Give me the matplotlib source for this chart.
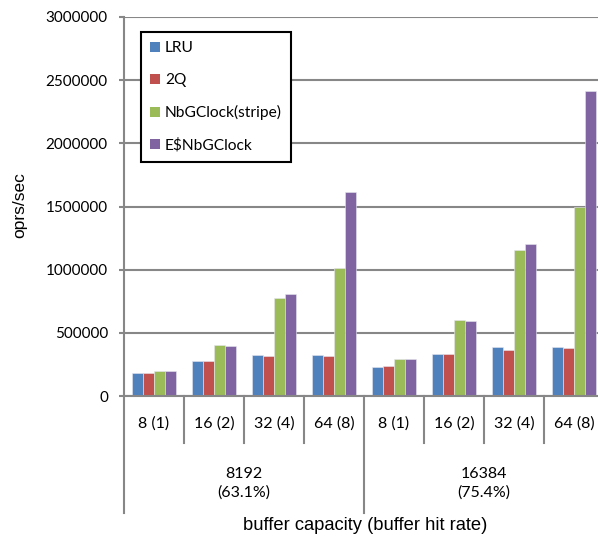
import matplotlib
matplotlib.use("Agg")
import matplotlib.pyplot as plt
from matplotlib.patches import Patch
import numpy as np

# Data
threads = ["8 (1)", "16 (2)", "32 (4)", "64 (8)", "8 (1)", "16 (2)", "32 (4)", "64 (8)"]
capacities = ["8192\n(63.1%)", "16384\n(75.4%)"]
series_names = ["LRU", "2Q", "NbGClock(stripe)", "E$NbGClock"]
lru = [179000, 279000, 324000, 324000, 231000, 329000, 387000, 390000]
twoq = [182000, 276000, 316000, 316000, 239000, 329000, 366000, 377000]
nbg_stripe = [195000, 403000, 774000, 1013000, 294000, 604000, 1153000, 1500000]
es_nbg = [195000, 397000, 805000, 1618000, 294000, 597000, 1204000, 2418000]
yticks = [0, 500000, 1000000, 1500000, 2000000, 2500000, 3000000]

colors = ["#4F81BD", "#C0504D", "#9BBB59", "#8064A2"]
grid_c = "#878787"
W, H = 598, 540

fig = plt.figure(figsize=(W / 100, H / 100), dpi=100)
# axes: x from 124px to 604px, y from 396px (0) to 17px (3e6)
ax = fig.add_axes([124 / W, (H - 396) / H, 480 / W, 379 / H])

x = np.arange(len(threads))
bw = 0.183
offsets = (np.arange(4) - 1.5) * bw
for vals, c, off, name in zip([lru, twoq, nbg_stripe, es_nbg], colors, offsets, series_names):
    ax.bar(x + off, vals, width=bw, color=c, edgecolor="#e6e6f0", linewidth=0.4, label=name, zorder=3)

ax.set_xlim(-0.5, len(threads) - 0.5)
ax.set_ylim(0, 3000000)
ax.set_yticks(yticks)
ax.set_yticklabels([str(v) for v in yticks], fontfamily="Lato", fontsize=11)
ax.yaxis.grid(True, color=grid_c, linewidth=1.5, zorder=0)
ax.set_axisbelow(True)
ax.tick_params(axis="y", direction="out", length=3.6, width=1.5, color=grid_c, pad=8)
ax.set_xticks([])
for s in ["top", "right", "left"]:
    ax.spines[s].set_visible(False)
ax.spines["bottom"].set_color(grid_c)
ax.spines["bottom"].set_linewidth(1.5)
ax.spines["bottom"].set_zorder(4)

# multi-level category axis
ypx = lambda p: (396 - p) / 379.0
ax.plot([-0.5, -0.5], [1, ypx(513)], transform=ax.get_xaxis_transform(), color=grid_c,
        linewidth=1.5, clip_on=False, zorder=4)
for b in range(1, len(threads)):
    bottom = ypx(513) if b == 4 else ypx(443)
    ax.plot([b - 0.5, b - 0.5], [0, bottom], transform=ax.get_xaxis_transform(), color=grid_c,
            linewidth=1.5, clip_on=False)
for i, t in enumerate(threads):
    ax.text(i, ypx(424), t, transform=ax.get_xaxis_transform(), ha="center", va="center",
            fontfamily="Lato", fontsize=11.5)
for g, cap in enumerate(capacities):
    ax.text(g * 4 + 1.5, ypx(483), cap, transform=ax.get_xaxis_transform(), ha="center",
            va="center", fontfamily="Lato", fontsize=11.5, linespacing=1.4)

fig.text(365 / W, 1 - 526 / H, "buffer capacity (buffer hit rate)", ha="center", va="center",
         fontfamily="Liberation Sans", fontsize=13.2)
fig.text(20 / W, 1 - 205 / H, "oprs/sec", ha="center", va="center", rotation=90,
         fontfamily="Liberation Sans", fontsize=12.5)

handles = [Patch(facecolor=c, edgecolor="none") for c in colors]
leg = ax.legend(handles, series_names, loc="upper left",
                bbox_to_anchor=(141 / W, 1 - 32 / H), bbox_transform=fig.transFigure,
                borderaxespad=0, frameon=True, fancybox=False, edgecolor="black",
                framealpha=1, prop={"family": "Lato", "size": 11.2},
                handlelength=0.6, handleheight=0.6, handletextpad=0.35,
                labelspacing=1.15, borderpad=0.6)
leg.get_frame().set_linewidth(1.5)

fig.savefig("out.png", dpi=100)
